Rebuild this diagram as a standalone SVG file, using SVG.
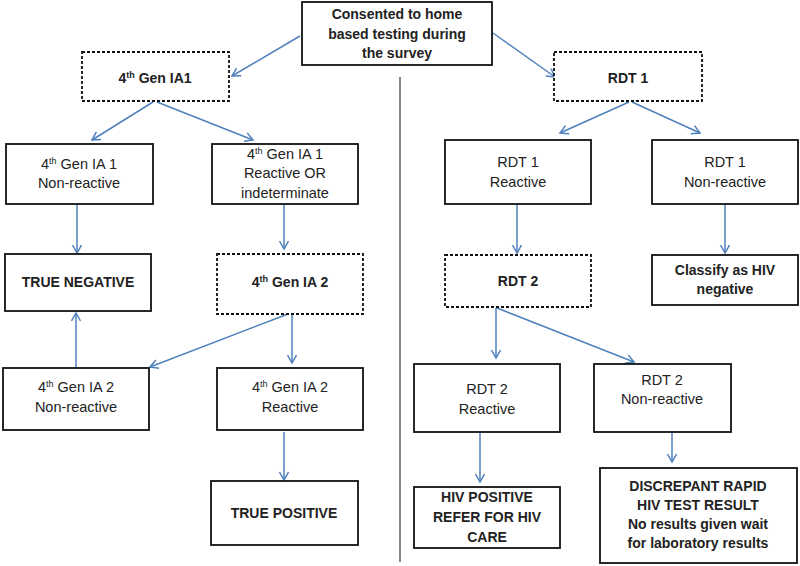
<svg xmlns="http://www.w3.org/2000/svg" width="800" height="566" viewBox="0 0 800 566">
<defs>
<marker id="ah" markerUnits="userSpaceOnUse" markerWidth="12" markerHeight="12" refX="9" refY="5" orient="auto">
<path d="M1,0.5 L9,5 L1,9.5" fill="none" stroke="#4f81bd" stroke-width="1.5"/>
</marker>
<style>
.box{fill:#fff;stroke:#111;stroke-width:1.8}
.dash{fill:#fff;stroke:#111;stroke-width:1.8;stroke-dasharray:3 2}
.t{font-family:"Liberation Sans",Arial,sans-serif;font-size:14.5px;fill:#222;text-anchor:middle}
.b{font-weight:bold;font-size:14px}
.sup{font-size:9px}
.c{fill:none;stroke:#4f81bd;stroke-width:1.5;marker-end:url(#ah)}
</style>
</defs>
<rect width="800" height="566" fill="#fff"/>
<line x1="400" y1="77" x2="400" y2="562" stroke="#333" stroke-width="1.2"/>
<g id="connectors">
<line class="c" x1="300" y1="36" x2="232" y2="76"/>
<line class="c" x1="493" y1="33" x2="555" y2="77"/>
<line class="c" x1="153" y1="102" x2="92" y2="140"/>
<line class="c" x1="157" y1="102" x2="253" y2="140"/>
<line class="c" x1="629" y1="102" x2="560" y2="133"/>
<line class="c" x1="632" y1="102" x2="700" y2="133"/>
<line class="c" x1="77" y1="205" x2="77" y2="253"/>
<line class="c" x1="284" y1="205" x2="284" y2="249"/>
<line class="c" x1="517" y1="205" x2="517" y2="253"/>
<line class="c" x1="725" y1="205" x2="725" y2="253"/>
<line class="c" x1="76" y1="368" x2="76" y2="313"/>
<line class="c" x1="288" y1="314" x2="150" y2="367"/>
<line class="c" x1="292" y1="315" x2="292" y2="363"/>
<line class="c" x1="496" y1="308" x2="496" y2="358"/>
<line class="c" x1="497" y1="308" x2="634" y2="362"/>
<line class="c" x1="284" y1="432" x2="284" y2="480"/>
<line class="c" x1="480" y1="433" x2="480" y2="482"/>
<line class="c" x1="672" y1="433" x2="672" y2="462"/>
</g>
<g id="consent">
<rect class="box" x="302" y="2" width="190" height="63"/>
<text class="t b" x="397" y="19">Consented to home</text>
<text class="t b" x="397" y="39">based testing during</text>
<text class="t b" x="397" y="58">the survey</text>
</g>
<g id="ia1">
<rect class="dash" x="82" y="52" width="147" height="49"/>
<text class="t b" x="155" y="83">4<tspan class="sup" dy="-5">th</tspan><tspan dy="5"> Gen IA1</tspan></text>
</g>
<g id="rdt1">
<rect class="dash" x="554" y="52" width="148" height="49"/>
<text class="t b" x="628" y="83">RDT 1</text>
</g>
<g id="ia1nr">
<rect class="box" x="6" y="144" width="147" height="60"/>
<text class="t" x="79" y="169">4<tspan class="sup" dy="-5">th</tspan><tspan dy="5"> Gen IA 1</tspan></text>
<text class="t" x="79" y="188">Non-reactive</text>
</g>
<g id="ia1r">
<rect class="box" x="212" y="144" width="146" height="60"/>
<text class="t" x="285" y="159">4<tspan class="sup" dy="-5">th</tspan><tspan dy="5"> Gen IA 1</tspan></text>
<text class="t" x="285" y="178">Reactive OR</text>
<text class="t" x="285" y="198">indeterminate</text>
</g>
<g id="rdt1r">
<rect class="box" x="445" y="140" width="146" height="64"/>
<text class="t" x="518" y="167">RDT 1</text>
<text class="t" x="518" y="187">Reactive</text>
</g>
<g id="rdt1nr">
<rect class="box" x="652" y="140" width="146" height="64"/>
<text class="t" x="725" y="167">RDT 1</text>
<text class="t" x="725" y="187">Non-reactive</text>
</g>
<g id="trueneg">
<rect class="box" x="5" y="254" width="146" height="57"/>
<text class="t b" x="78" y="287">TRUE NEGATIVE</text>
</g>
<g id="ia2">
<rect class="dash" x="217" y="254" width="146" height="60"/>
<text class="t b" x="290" y="287">4<tspan class="sup" dy="-5">th</tspan><tspan dy="5"> Gen IA 2</tspan></text>
</g>
<g id="rdt2">
<rect class="dash" x="445" y="255" width="146" height="52"/>
<text class="t b" x="518" y="286">RDT 2</text>
</g>
<g id="classify">
<rect class="box" x="652" y="255" width="146" height="50"/>
<text class="t b" x="725" y="275">Classify as HIV</text>
<text class="t b" x="725" y="294">negative</text>
</g>
<g id="ia2nr">
<rect class="box" x="3" y="368" width="146" height="62"/>
<text class="t" x="76" y="392">4<tspan class="sup" dy="-5">th</tspan><tspan dy="5"> Gen IA 2</tspan></text>
<text class="t" x="76" y="412">Non-reactive</text>
</g>
<g id="ia2r">
<rect class="box" x="217" y="368" width="146" height="62"/>
<text class="t" x="290" y="392">4<tspan class="sup" dy="-5">th</tspan><tspan dy="5"> Gen IA 2</tspan></text>
<text class="t" x="290" y="412">Reactive</text>
</g>
<g id="rdt2r">
<rect class="box" x="414" y="364" width="146" height="68"/>
<text class="t" x="487" y="394">RDT 2</text>
<text class="t" x="487" y="414">Reactive</text>
</g>
<g id="rdt2nr">
<rect class="box" x="594" y="364" width="137" height="68"/>
<text class="t" x="662" y="385">RDT 2</text>
<text class="t" x="662" y="404">Non-reactive</text>
</g>
<g id="truepos">
<rect class="box" x="211" y="481" width="147" height="64"/>
<text class="t b" x="284" y="518">TRUE POSITIVE</text>
</g>
<g id="hivpos">
<rect class="box" x="414" y="487" width="146" height="61"/>
<text class="t b" x="487" y="502">HIV POSITIVE</text>
<text class="t b" x="487" y="522">REFER FOR HIV</text>
<text class="t b" x="487" y="542">CARE</text>
</g>
<g id="discrepant">
<rect class="box" x="600" y="468" width="197" height="95"/>
<text class="t b" x="698" y="491">DISCREPANT RAPID</text>
<text class="t b" x="698" y="510">HIV TEST RESULT</text>
<text class="t b" x="698" y="529">No results given wait</text>
<text class="t b" x="698" y="548">for laboratory results</text>
</g>
</svg>
